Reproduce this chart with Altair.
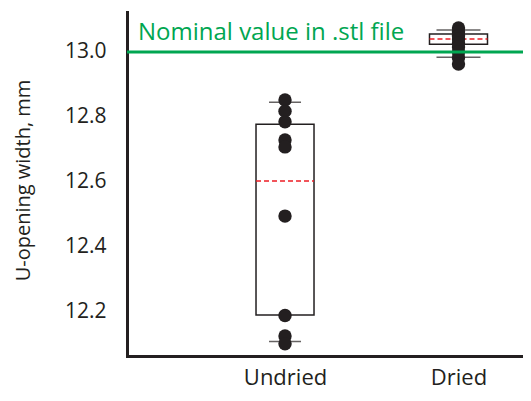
import json
import altair as alt
import pandas as pd

# ---- data ----
categories = ["Undried", "Dried"]
undried_values = [12.852, 12.818, 12.785, 12.729, 12.708, 12.495, 12.189, 12.126, 12.102]
dried_values = [13.074, 13.062, 13.050, 13.040, 13.028, 13.015, 13.000, 12.982, 12.963]
box_q1 = [12.191, 13.024]
box_q3 = [12.778, 13.055]
box_mid = [12.603, 13.040]
cap_low = [12.109, 12.984]
cap_high = [12.845, 13.068]
nominal_value = 13.0
nominal_label = "Nominal value in .stl file"
y_ticks = [12.2, 12.4, 12.6, 12.8, 13.0]
y_title = "U-opening width, mm"

# ---- tables ----
pos = {c: i + 1 for i, c in enumerate(categories)}
points = pd.DataFrame({
    "group": ["Undried"] * len(undried_values) + ["Dried"] * len(dried_values),
    "value": undried_values + dried_values,
})
points["pos"] = points["group"].map(pos)

stats = pd.DataFrame({
    "group": categories,
    "pos": [pos[c] for c in categories],
    "q1": box_q1,
    "q3": box_q3,
    "mid": box_mid,
    "lo": cap_low,
    "hi": cap_high,
})
annot = pd.DataFrame({"label": [nominal_label], "value": [nominal_value]})

FONT = "Open Sans"
INK = "#231f20"
GREEN = "#00a651"
RED = "#ed1c24"

x_scale = alt.Scale(domain=[0.118, 2.343], nice=False, zero=False)
y_scale = alt.Scale(domain=[12.0646, 13.123], nice=False, zero=False)

x_axis = alt.Axis(
    values=[1, 2],
    labelExpr=f"{json.dumps(categories)}[datum.value - 1]",
    title=None, ticks=False, grid=False,
    labelPadding=11, labelFontSize=22, labelFont=FONT, labelColor=INK,
    labelBaseline="top",
)
y_axis = alt.Axis(
    values=y_ticks, format=".1f",
    title=y_title, titleFont=FONT, titleFontSize=20, titleFontWeight="normal",
    titleColor=INK, titleAngle=270, titleAlign="center", titleBaseline="alphabetic",
    titleX=-98, titleY=168,
    ticks=False, grid=False,
    labelPadding=21, labelFontSize=21, labelFont=FONT, labelColor=INK,
)

X = alt.X("pos:Q", scale=x_scale, axis=x_axis)

box = alt.Chart(stats).mark_bar(
    size=58, fill="white", stroke=INK, strokeWidth=1.5
).encode(
    x=X,
    y=alt.Y("q1:Q", scale=y_scale, axis=y_axis),
    y2="q3:Q",
)

median = alt.Chart(stats).mark_rule(
    color=RED, strokeDash=[5, 3], strokeWidth=1.5, xOffset=-29, x2Offset=29
).encode(
    x=alt.X("pos:Q", scale=x_scale),
    x2="pos:Q",
    y=alt.Y("mid:Q", scale=y_scale),
)

caps = alt.Chart(stats).transform_fold(
    ["lo", "hi"], as_=["which", "cap"]
).mark_tick(
    orient="horizontal", thickness=1.5, color=INK
).encode(
    x=alt.X("pos:Q", scale=x_scale),
    y=alt.Y("cap:Q", scale=y_scale),
    size=alt.condition("datum.group == 'Dried'", alt.value(44), alt.value(32)),
)

dots = alt.Chart(points).mark_circle(
    size=180, color=INK, opacity=1
).encode(
    x=alt.X("pos:Q", scale=x_scale),
    y=alt.Y("value:Q", scale=y_scale),
)

nominal_line = alt.Chart(annot).mark_rule(
    color=GREEN, strokeWidth=3
).encode(
    y=alt.Y("value:Q", scale=y_scale),
)

nominal_text = alt.Chart(annot).mark_text(
    align="left", baseline="alphabetic", dy=-12,
    fontSize=24, font=FONT, color=GREEN,
).encode(
    x=alt.value(11),
    y=alt.Y("value:Q", scale=y_scale),
    text="label:N",
)

chart = alt.layer(
    box, median, caps, dots, nominal_line, nominal_text
).properties(
    width=396, height=344,
    autosize=alt.AutoSizeParams(type="none"),
    padding={"left": 119, "top": 4, "right": 0, "bottom": 37},
).configure_axis(
    domainColor=INK, domainWidth=3, domainCap="square",
).configure_view(
    strokeWidth=0
)

chart.save("out.html", embed_options={"renderer": "svg", "actions": False})
